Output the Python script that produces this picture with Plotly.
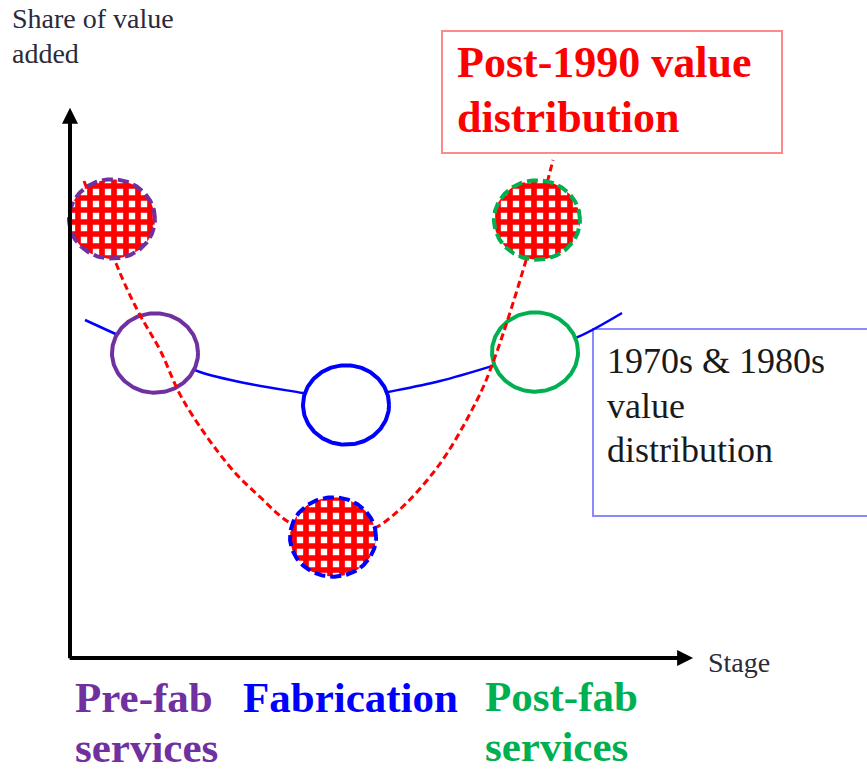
import numpy as np
import plotly.graph_objects as go

# ---------------- data (stage position 0-100, share of value added 0-100) ----------------
stages = ["Pre-fab services", "Fabrication", "Post-fab services"]
stage_colors = ["#7030A0", "#0000FF", "#00B050"]

# 1970s & 1980s: hollow circles and the blue curve
old_stage_x = [13.71, 44.52, 75.00]
old_stage_y = [55.66, 46.17, 55.84]
old_curve_x = [2.42, 13.71, 20.97, 29.03, 37.58, 44.35, 51.29, 59.68, 68.06, 75.00, 81.94, 89.03]
old_curve_y = [61.68, 55.84, 52.19, 50.00, 48.36, 47.08, 48.54, 50.55, 53.28, 55.84, 58.58, 62.96]

# Post-1990: checkered circles and the red dashed curve
new_stage_x = [6.77, 42.42, 75.32]
new_stage_y = [80.11, 22.08, 79.93]
new_curve_x = [2.26, 8.55, 11.29, 14.52, 18.23, 25.81, 30.65, 35.48, 42.42, 49.52, 58.55, 65.65, 68.55, 73.71, 77.90]
new_curve_y = [87.04, 68.98, 62.59, 56.20, 47.08, 34.85, 29.38, 24.64, 21.53, 23.91, 33.76, 47.08, 54.93, 73.18, 90.88]

RX, RY = 6.94, 7.25

# ---------------- figure ----------------
W, H = 867, 771
X0PX, Y0PX = 70, 658
SX, SY = 6.2, 5.48
xr = [-X0PX / SX, (W - X0PX) / SX]
yr = [-(H - Y0PX) / SY, Y0PX / SY]


def px(x):
    return x / W


def py(y):
    return 1 - y / H


def ellipse(cx, cy):
    t = np.linspace(0, 2 * np.pi, 181)
    return cx + RX * np.cos(t), cy + RY * np.sin(t)


fig = go.Figure()

# blue 1970s/80s curve
fig.add_trace(go.Scatter(x=old_curve_x, y=old_curve_y, mode="lines",
                         line=dict(color="#0000FF", width=2.5, shape="spline", smoothing=1.0),
                         hoverinfo="skip", showlegend=False))

# hollow circles
for cx, cy, col in zip(old_stage_x, old_stage_y, stage_colors):
    ex, ey = ellipse(cx, cy)
    fig.add_trace(go.Scatter(x=ex, y=ey, mode="lines", fill="toself", fillcolor="white",
                             line=dict(color=col, width=4), hoverinfo="skip", showlegend=False))

# red post-1990 dashed curve
fig.add_trace(go.Scatter(x=new_curve_x, y=new_curve_y, mode="lines",
                         line=dict(color="#FF0000", width=3, dash="7px,4px", shape="spline", smoothing=1.0),
                         hoverinfo="skip", showlegend=False))

# checkered circles
for cx, cy, col in zip(new_stage_x, new_stage_y, stage_colors):
    ex, ey = ellipse(cx, cy)
    fig.add_trace(go.Scatter(x=ex, y=ey, mode="lines", fill="toself", fillcolor="rgb(255,0,0)",
                             fillpattern=dict(shape="+", fgcolor="rgb(255,0,0)", bgcolor="white",
                                              fgopacity=1, size=12, solidity=0.72),
                             line=dict(color=col, width=4, dash="11px,5px"),
                             hoverinfo="skip", showlegend=False))

annotations = []
# axes arrows
annotations.append(dict(x=100.5, y=0, ax=-0.3, ay=0, xref="x", yref="y", axref="x", ayref="y",
                        text="", showarrow=True, arrowhead=2, arrowsize=0.8, arrowwidth=4,
                        arrowcolor="black"))
annotations.append(dict(x=0, y=100.4, ax=0, ay=-0.3, xref="x", yref="y", axref="x", ayref="y",
                        text="", showarrow=True, arrowhead=2, arrowsize=0.8, arrowwidth=4,
                        arrowcolor="black"))

serif = "Liberation Serif, Times New Roman, serif"


def label(lines, x, baselines, size, color, bold=False):
    for text, b in zip(lines, baselines):
        t = f"<b>{text}</b>" if bold else text
        annotations.append(dict(x=px(x), y=py(b - 0.36 * size), xref="paper", yref="paper", text=t,
                                showarrow=False, xanchor="left", yanchor="middle", align="left",
                                font=dict(family=serif, size=size, color=color)))


label(["Share of value", "added"], 10, [29, 64], 28, "#2a2a3a")
label(["Post-1990 value", "distribution"], 455, [78, 133], 44, "#FF0000", bold=True)
label(["1970s &amp; 1980s", "value", "distribution"], 605, [374, 419, 463], 36, "#1a1a1a")
label(["Stage"], 706, [673], 28, "#2a2a3a")
label(["Pre-fab", "services"], 73, [713, 763], 43, stage_colors[0], bold=True)
label(["Fabrication"], 241, [713], 43, stage_colors[1], bold=True)
label(["Post-fab", "services"], 483, [712, 762], 43, stage_colors[2], bold=True)

shapes = [
    dict(type="rect", xref="paper", yref="paper", x0=px(442), x1=px(782), y0=py(31), y1=py(153),
         line=dict(color="#FF8A8A", width=2), fillcolor="rgba(0,0,0,0)", layer="below"),
    dict(type="rect", xref="paper", yref="paper", x0=px(593), x1=px(880), y0=py(329), y1=py(516),
         line=dict(color="#8A8AFF", width=2), fillcolor="rgba(0,0,0,0)", layer="below"),
]

fig.update_layout(
    width=W, height=H, margin=dict(l=0, r=0, t=0, b=0),
    paper_bgcolor="white", plot_bgcolor="white",
    xaxis=dict(range=xr, visible=False, fixedrange=True),
    yaxis=dict(range=yr, visible=False, fixedrange=True),
    annotations=annotations, shapes=shapes, showlegend=False,
)

fig.write_html("out.html", config={"displayModeBar": False},
               post_script="document.body.style.margin='0';document.body.style.overflow='hidden';")
